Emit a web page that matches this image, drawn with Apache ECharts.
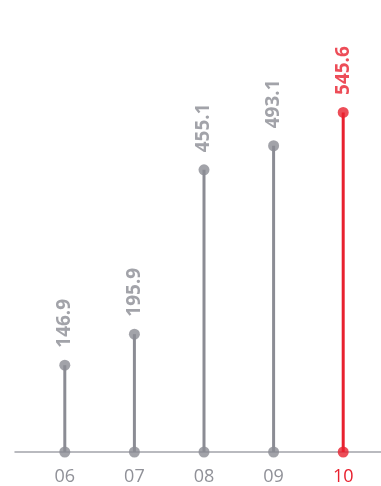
<!DOCTYPE html>
<html>
<head>
<meta charset="utf-8">
<script src="https://cdn.jsdelivr.net/npm/echarts@6/dist/echarts.min.js"></script>
<style>
html,body{margin:0;padding:0;background:#fff;}
#chart{width:381px;height:486px;}
</style>
</head>
<body>
<div id="chart"></div>
<script>
const categories = ['06', '07', '08', '09', '10'];
const values = [146.9, 195.9, 455.1, 493.1, 545.6];
const highlightIndex = 4;
const yMin = 10;
const yMax = 600;

const GRAY = '#8b8c94';
const RED = '#e8202e';
const colorOf = i => (i === highlightIndex ? RED : GRAY);

const chart = echarts.init(document.getElementById('chart'), null, {renderer: 'canvas'});

const topData = values.map((v, i) => ({
  value: v,
  itemStyle: {color: colorOf(i)},
  label: {color: colorOf(i)}
}));
const barData = values.map((v, i) => ({value: v, itemStyle: {color: colorOf(i)}}));
const baseData = values.map((v, i) => ({value: yMin, itemStyle: {color: colorOf(i)}}));

chart.setOption({
  animation: false,
  grid: [
    {left: 30, right: 3, top: 78, bottom: 34},
    {left: 15, right: 0, top: 78, bottom: 34}
  ],
  xAxis: [
    {
      type: 'category', gridIndex: 0, data: categories, boundaryGap: true,
      axisLine: {show: false}, axisTick: {show: false},
      axisLabel: {
        fontSize: 18, fontFamily: 'Open Sans', margin: 16,
        color: (val, idx) => (idx === highlightIndex ? RED : '#909198')
      }
    },
    {
      type: 'category', gridIndex: 1, data: categories,
      axisLine: {show: true, lineStyle: {color: '#a3a4ab', width: 1.5}},
      axisTick: {show: false}, axisLabel: {show: false}
    }
  ],
  yAxis: [
    {type: 'value', gridIndex: 0, min: yMin, max: yMax, show: false, splitLine: {show: false}},
    {type: 'value', gridIndex: 1, min: yMin, max: yMax, show: false, splitLine: {show: false}}
  ],
  series: [
    {
      type: 'bar', xAxisIndex: 0, yAxisIndex: 0, barWidth: 3, clip: true,
      data: barData, z: 2
    },
    {
      type: 'scatter', xAxisIndex: 0, yAxisIndex: 0, symbolSize: 11,
      data: baseData, z: 4
    },
    {
      type: 'scatter', xAxisIndex: 0, yAxisIndex: 0, symbolSize: 11,
      data: topData, z: 4,
      label: {
        show: true, position: 'top', distance: 12, rotate: 90,
        align: 'left', verticalAlign: 'middle',
        fontSize: 19, fontWeight: 'bold', fontFamily: 'Open Sans',
        formatter: p => p.value.toFixed(1)
      }
    }
  ]
});
</script>
</body>
</html>
